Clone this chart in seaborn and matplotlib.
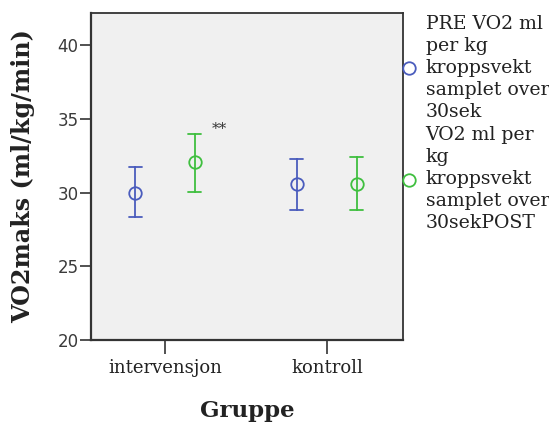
import numpy as np
import pandas as pd
import seaborn as sns
import matplotlib
matplotlib.use("Agg")
import matplotlib.pyplot as plt
from matplotlib.lines import Line2D

groups = ["intervensjon", "kontroll"]
series = ["PRE VO2 ml\nper kg\nkroppsvekt\nsamplet over\n30sek",
          "VO2 ml per\nkg\nkroppsvekt\nsamplet over\n30sekPOST"]
means = {series[0]: [30.0, 30.55], series[1]: [32.05, 30.6]}
lower = {series[0]: [28.35, 28.8], series[1]: [30.05, 28.8]}
upper = {series[0]: [31.7, 32.3], series[1]: [34.0, 32.4]}
colors = ["#4a5cbd", "#3fbf3f"]

rows = []
for s in series:
    for i, g in enumerate(groups):
        for v in (lower[s][i], means[s][i], upper[s][i]):
            rows.append({"Gruppe": g, "serie": s, "val": v})
df = pd.DataFrame(rows)

sns.set_style("ticks")
plt.rcParams["font.family"] = ["DejaVu Serif"]

fig = plt.figure(figsize=(5.49, 4.26), dpi=100)
ax = fig.add_axes([91/549, 1 - 340/426, 312/549, 327/426])
ax.set_facecolor("#f0f0f0")

sns.pointplot(data=df, x="Gruppe", y="val", hue="serie", order=groups, hue_order=series,
              estimator=np.median, errorbar=("pi", 100), dodge=0.37,
              linestyles="none", markers="o", palette=colors, capsize=0.08,
              err_kws={"linewidth": 1.3}, markersize=9, ax=ax, legend=False)
for ln in ax.lines:
    if ln.get_marker() == "o":
        ln.set_markerfacecolor("none")
        ln.set_markeredgewidth(1.3)

ax.set_ylim(20, 42.17)
ax.set_xlim(-0.457, 1.47)
ax.set_yticks([20, 25, 30, 35, 40])
for t in ax.get_yticklabels():
    t.set_fontfamily("DejaVu Sans")
    t.set_fontsize(12)
    t.set_color("#3a3a3a")
ax.tick_params(axis="y", length=8, width=1.2, color="#333333", pad=1)
ax.tick_params(axis="x", length=10, width=1.2, color="#333333", labelsize=13, pad=4)
for t in ax.get_xticklabels():
    t.set_color("#222222")
for sp in ax.spines.values():
    sp.set_color("#333333")
    sp.set_linewidth(1.3)
ax.spines["left"].set_linewidth(1.6)
ax.spines["bottom"].set_linewidth(1.6)

ax.set_ylabel("VO2maks (ml/kg/min)", fontsize=17.2, fontweight="bold", labelpad=16, color="#222222")
ax.set_xlabel("Gruppe", fontsize=16.5, fontweight="bold", labelpad=16, color="#222222")

ax.text(0.185 + 0.15, 34.3, "**", fontsize=11, ha="center", va="center", color="#333333")

handles = [Line2D([], [], linestyle="none", marker="o", markersize=9,
                  markerfacecolor="none", markeredgecolor=c, markeredgewidth=1.3) for c in colors]
leg = fig.legend(handles, series, loc="upper left", bbox_to_anchor=(403/549, 1 - 15/426),
                 frameon=False, prop={"family": "DejaVu Serif", "size": 13.6},
                 handlelength=0.6, handletextpad=0.6,
                 labelspacing=0.3, borderaxespad=0, borderpad=0)
for t in leg.get_texts():
    t.set_color("#222222")
    t.set_linespacing(1.28)

fig.savefig("out.png", dpi=100)
